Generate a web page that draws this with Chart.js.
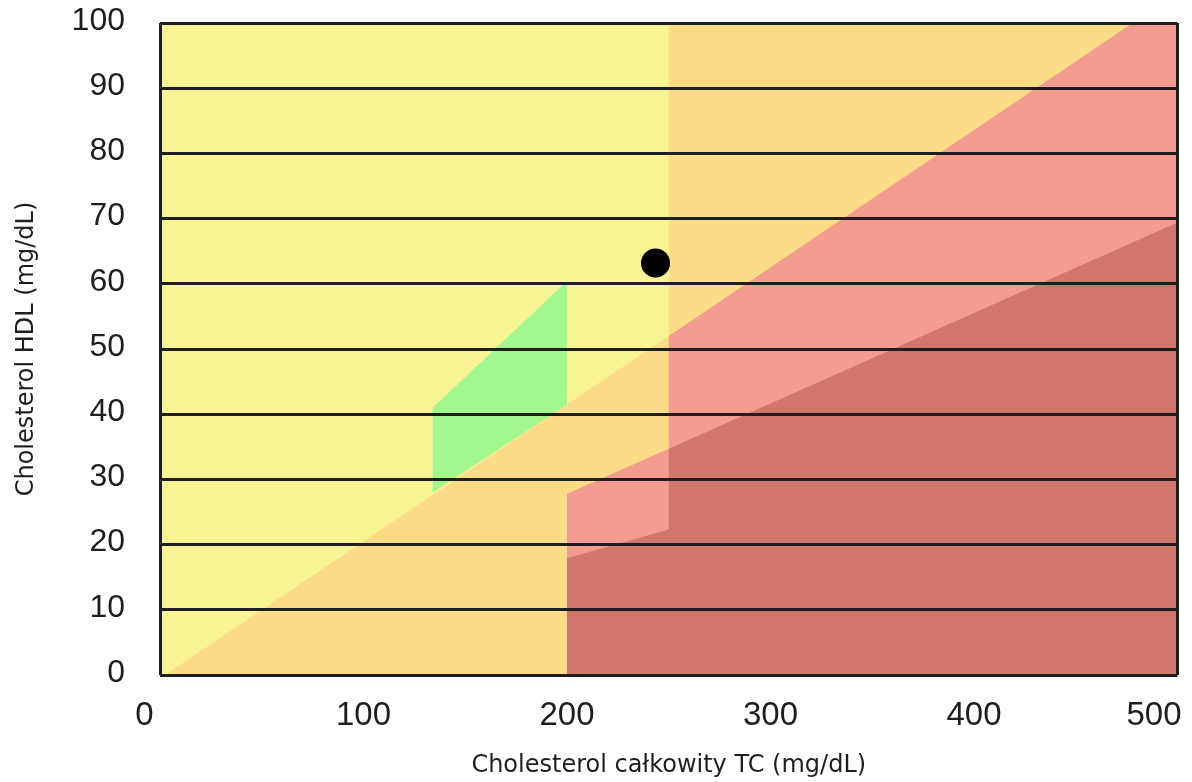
<!DOCTYPE html>
<html lang="pl">
<head>
<meta charset="utf-8">
<title>Cholesterol całkowity a HDL</title>
<script src="https://cdn.jsdelivr.net/npm/chart.js@4.4.1/dist/chart.umd.min.js"></script>
<style>
  html, body { margin: 0; padding: 0; background: #ffffff; }
  #wrap { width: 1192px; height: 782px; position: relative; }
</style>
</head>
<body>
<div id="wrap"><canvas id="chart" width="1192" height="782"></canvas></div>
<script>
// Axis ticks (mg/dL)
const tcTicks = [0, 100, 200, 300, 400, 500];
const hdlTicks = [0, 10, 20, 30, 40, 50, 60, 70, 80, 90, 100];

// Risk zones as polygons of [TC, HDL] vertices, painted back to front
const zoneYellow  = [[0, 0], [500, 0], [500, 100], [0, 100]];
const zoneOrange  = [[2.5, 0], [500, 0], [500, 100], [250, 100], [250, 52]];
const zoneRed     = [[200, 0], [500, 0], [500, 100], [478, 100], [250, 52], [250, 34.7], [200, 27.8]];
const zoneDarkRed = [[200, 0], [500, 0], [500, 69.4], [250, 34.7], [250, 22.3], [200, 17.9]];
const zoneGreen   = [[134, 28], [134, 41], [200, 60.4], [200, 41.5]];

// Measured result: [TC, HDL]
const patient = [243.5, 63.2];

const toXY = pts => pts.map(([x, y]) => ({ x, y }));

function zone(points, color, order) {
  return {
    data: toXY(points),
    backgroundColor: color,
    borderColor: color,
    borderWidth: 0,
    pointRadius: 0,
    tension: 0,
    fill: 'shape',
    order: order
  };
}

// Tick labels on the TC axis, drawn below the plot
const tcLabelShift = { 0: -15.5, 500: -23.5 };
const tcLabels = {
  id: 'tcLabels',
  afterDraw(chart) {
    const sx = chart.scales.x;
    const ctx = chart.ctx;
    ctx.save();
    ctx.font = '33px "Liberation Sans", Arial, sans-serif';
    ctx.fillStyle = '#1e1e1e';
    ctx.textAlign = 'center';
    ctx.textBaseline = 'middle';
    tcTicks.forEach(v => {
      const px = sx.getPixelForValue(v) + (tcLabelShift[v] || 0);
      ctx.fillText(String(v), px, 716);
    });
    ctx.restore();
  }
};

const edge = '#1e1e1e';

new Chart(document.getElementById('chart'), {
  type: 'line',
  data: {
    datasets: [
      {
        data: [{ x: patient[0], y: patient[1] }],
        showLine: false,
        pointRadius: 14.5,
        pointBackgroundColor: '#000000',
        pointBorderColor: '#000000',
        pointBorderWidth: 0,
        order: 0
      },
      zone(zoneGreen, '#a2f78f', 1),
      zone(zoneDarkRed, '#d2766b', 2),
      zone(zoneRed, '#f49c90', 3),
      zone(zoneOrange, '#fddc87', 4),
      zone(zoneYellow, '#f8f494', 5)
    ]
  },
  options: {
    responsive: false,
    animation: false,
    events: [],
    layout: { padding: { top: 23, right: 13, left: 0, bottom: 0 } },
    plugins: { legend: { display: false }, tooltip: { enabled: false } },
    scales: {
      x: {
        type: 'linear',
        min: 0,
        max: 500,
        afterBuildTicks: s => { s.ticks = tcTicks.map(v => ({ value: v })); },
        afterFit: s => { s.height = 107; s.paddingLeft = 0; s.paddingRight = 0; },
        ticks: { display: false },
        grid: {
          z: 1,
          drawTicks: false,
          lineWidth: 3,
          color: c => (c.tick && (c.tick.value === 0 || c.tick.value === 500)) ? edge : 'rgba(0,0,0,0)'
        },
        border: { display: false },
        title: {
          display: true,
          text: 'Cholesterol całkowity TC (mg/dL)',
          color: '#1e1e1e',
          font: { family: '"DejaVu Sans", sans-serif', size: 24 },
          padding: { top: 0, bottom: 2 }
        }
      },
      y: {
        type: 'linear',
        min: 0,
        max: 100,
        afterBuildTicks: s => { s.ticks = hdlTicks.map(v => ({ value: v })); },
        afterFit: s => { s.width = 160; s.paddingTop = 0; s.paddingBottom = 0; },
        ticks: {
          padding: 35,
          labelOffset: -2,
          color: '#1e1e1e',
          font: { family: '"Liberation Sans", Arial, sans-serif', size: 32 }
        },
        grid: { z: 1, drawTicks: false, lineWidth: 3, color: edge },
        border: { display: false },
        title: {
          display: true,
          text: 'Cholesterol HDL (mg/dL)',
          color: '#1e1e1e',
          font: { family: '"DejaVu Sans", sans-serif', size: 24 },
          padding: { top: 12, bottom: 0 }
        }
      }
    }
  },
  plugins: [tcLabels]
});
</script>
</body>
</html>
